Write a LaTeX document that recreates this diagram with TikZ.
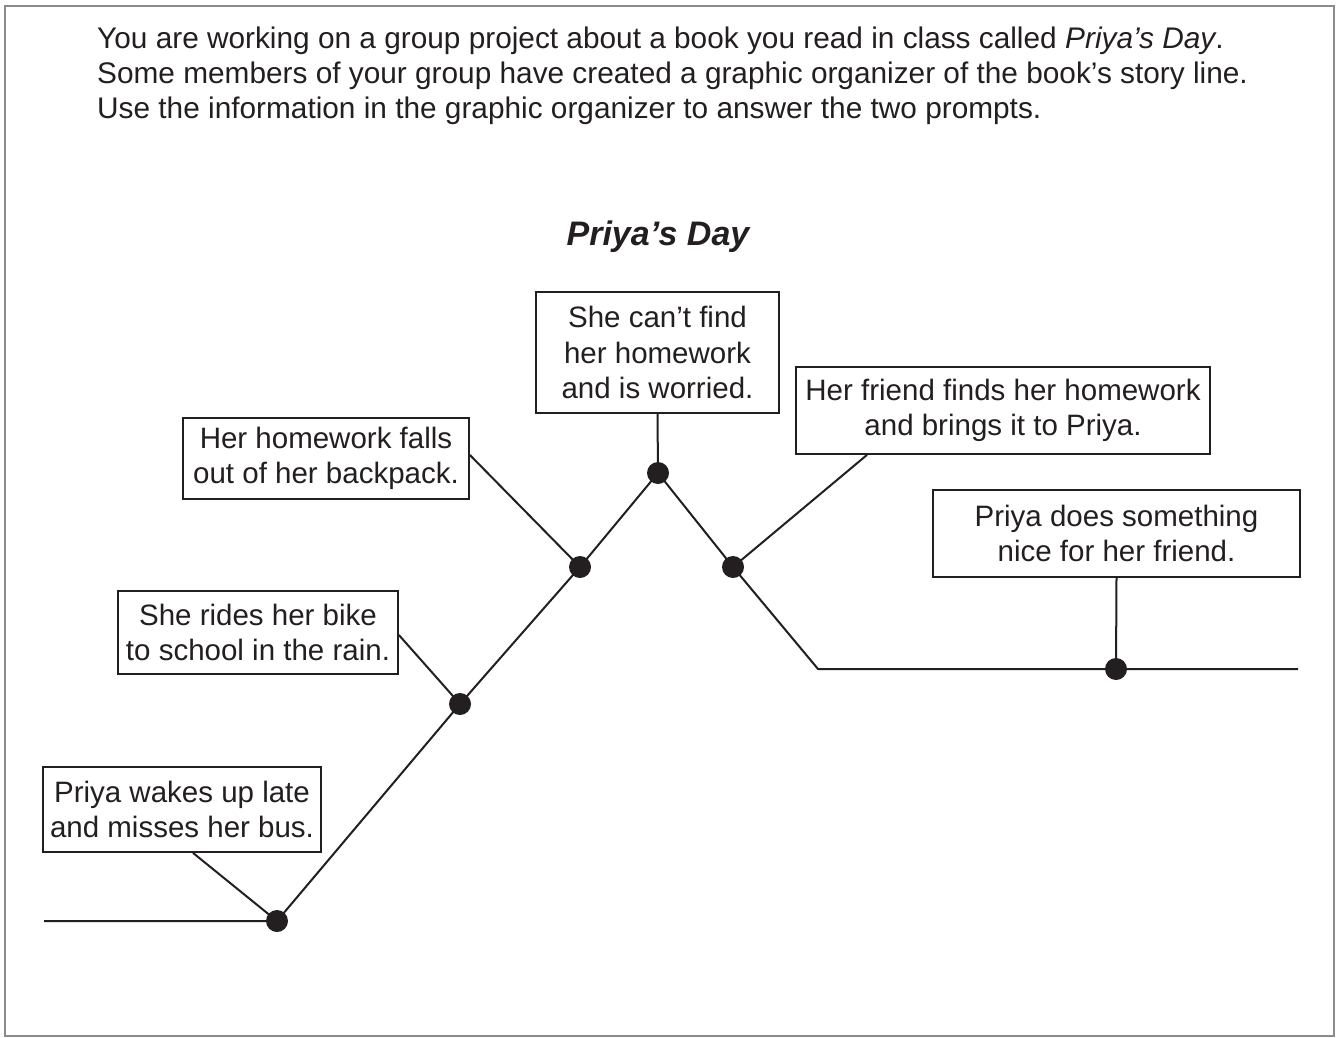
\documentclass[tikz,border=0pt]{standalone}
\usepackage{fontspec}
\setmainfont{Liberation Sans}
\usetikzlibrary{calc}
\definecolor{ink}{HTML}{231F20}
\definecolor{framegray}{HTML}{8C8C8C}
\tikzset{
  textbox/.style={draw=ink, line width=1.8pt, text=ink, align=center, inner sep=0pt,
    font=\fontsize{29.5}{35.5}\selectfont},
  dot/.style={circle, fill=ink, inner sep=0pt, minimum size=22pt},
  storyline/.style={draw=ink, line width=2pt, line join=round},
}
\begin{document}
\begin{tikzpicture}[x=1pt, y=-1pt]
\useasboundingbox (0,0) rectangle (1338,1038);
\fill[white] (0,0) rectangle (1338,1038);
\draw[framegray, line width=2pt] (5,6) rectangle (1334,1036);

\node[anchor=north west, align=left, inner sep=0pt, text=ink,
  font=\fontsize{29.8}{35}\selectfont] (intro) at (97,26.5)
  {You are working on a group project about a book you read in class called \textit{Priya’s Day}.\\
   Some members of your group have created a graphic organizer of the book’s story line.\\
   Use the information in the graphic organizer to answer the two prompts.};

\node[text=ink, font=\fontsize{34}{38}\selectfont\bfseries\itshape] (title) at (658,237) {Priya’s Day};

\node[textbox, minimum width=278pt, minimum height=85pt] (wake) at (182,809.5)
  {Priya wakes up late\\and misses her bus.};
\node[textbox, minimum width=280pt, minimum height=83pt] (bike) at (258,632.5)
  {She rides her bike\\to school in the rain.};
\node[textbox, minimum width=286pt, minimum height=81pt] (falls) at (326,458.5)
  {Her homework falls\\out of her backpack.};
\node[textbox, minimum width=243pt, minimum height=121pt] (cant) at (657.5,352.5)
  {She can’t find\\her homework\\and is worried.};
\node[textbox, minimum width=414pt, minimum height=87pt] (friend) at (1003,410.5)
  {Her friend finds her homework\\and brings it to Priya.};
\node[textbox, minimum width=367pt, minimum height=87pt] (nice) at (1116.5,533.5)
  {Priya does something\\nice for her friend.};

\coordinate (start) at (44,921);
\coordinate (p1) at (277,921);
\coordinate (p2) at (460,704);
\coordinate (p3) at (580,567);
\coordinate (p4) at (658,473);
\coordinate (p5) at (733,567);
\coordinate (bend) at (818,669);
\coordinate (p6) at (1116,669);
\coordinate (finish) at (1298,669);

\draw[storyline] (start) -- (p1) -- (p2) -- (p3) -- (p4) -- (p5) -- (bend) -- (p6) -- (finish);

\draw[storyline] ([xshift=11pt]wake.south) -- (p1);
\draw[storyline] ([yshift=-2.5pt]bike.east) -- (p2);
\draw[storyline] ([yshift=3.5pt]falls.east) -- (p3);
\draw[storyline] (cant.south) -- (p4);
\draw[storyline] ([xshift=-136pt]friend.south) -- (p5);
\draw[storyline] (nice.south) -- (p6);

\foreach \p in {p1,p2,p3,p4,p5,p6} \node[dot] (dot\p) at (\p) {};
\end{tikzpicture}
\end{document}
